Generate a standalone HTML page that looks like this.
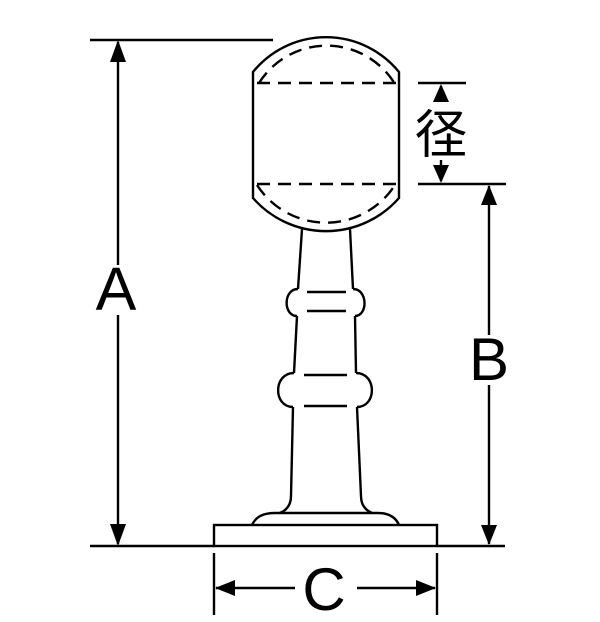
<!DOCTYPE html>
<html><head><style>
html,body{margin:0;padding:0;background:#fff;width:600px;height:622px;overflow:hidden}
svg{display:block}
text{font-family:"Liberation Sans","Noto Sans CJK JP",sans-serif;fill:#000}
</style></head><body>
<svg width="600" height="622" viewBox="0 0 600 622" xmlns="http://www.w3.org/2000/svg">
<g fill="none" stroke="#000" stroke-width="2.4">
<!-- ball -->
<path d="M253,198 L253,72 A94,94 0 0 1 399,72 L399,198 A97,97 0 0 1 253,198 Z"/>
<g stroke-dasharray="13,8">
<line x1="257" y1="83" x2="396" y2="83"/>
<line x1="257" y1="184" x2="396" y2="184"/>
<path d="M259,83 A80,80 0 0 1 395,84"/>
<path d="M257,185 A82,82 0 0 0 395,185"/>
</g>
<!-- stem -->
<path d="M302,229 L298,289"/>
<path d="M350,229 L353,289"/>
<path d="M298,289 C283,289 283,316 297,316 M353,289 C368,289 368,316 355,316"/>
<path d="M297,316 L294,373 M355,316 L356,373"/>
<path d="M294,373 C273,373 273,407 293,407 M356,373 C377,373 377,407 357,407"/>
<path d="M293,407 L291,496 C291,505 287,510 280,513 M357,407 L361,496 C361,505 365,510 372,513"/>
<line x1="307" y1="292" x2="346" y2="292"/>
<line x1="307" y1="311" x2="346" y2="311"/>
<line x1="304" y1="375" x2="347" y2="375"/>
<line x1="304" y1="406" x2="347" y2="406"/>
<!-- foot -->
<path d="M252,525 C256,516 264,513 275,513 L378,513 C390,513 396,518 399,525"/>
<rect x="214" y="525" width="223" height="21"/>
<!-- dimension lines -->
<line x1="90" y1="40" x2="273" y2="40"/>
<line x1="90" y1="546" x2="214" y2="546"/>
<line x1="437" y1="546" x2="505" y2="546"/>
<line x1="118" y1="42" x2="118" y2="265"/>
<line x1="118" y1="315" x2="118" y2="544"/>
<line x1="418" y1="83" x2="466" y2="83"/>
<line x1="418" y1="184" x2="506" y2="184"/>
<line x1="441" y1="86" x2="441" y2="100"/>
<line x1="441" y1="160" x2="441" y2="181"/>
<line x1="489" y1="186" x2="489" y2="335"/>
<line x1="489" y1="385" x2="489" y2="544"/>
<line x1="214" y1="553" x2="214" y2="615"/>
<line x1="437" y1="553" x2="437" y2="615"/>
<line x1="216" y1="588" x2="295" y2="588"/>
<line x1="357" y1="588" x2="435" y2="588"/>
</g>
<g fill="#000">
<path d="M118,40 L110,62 L126,62 Z"/>
<path d="M118,546 L110,524 L126,524 Z"/>
<path d="M441,84 L433,102 L449,102 Z"/>
<path d="M441,183 L433,165 L449,165 Z"/>
<path d="M489,185 L481,205 L497,205 Z"/>
<path d="M489,545 L481,525 L497,525 Z"/>
<path d="M215,588 L235,580 L235,596 Z"/>
<path d="M436,588 L416,580 L416,596 Z"/>
</g>
<text x="116" y="310" font-size="61" text-anchor="middle">A</text>
<text x="489" y="380" font-size="60" text-anchor="middle">B</text>
<text x="324" y="610" font-size="60" text-anchor="middle">C</text>
<text x="441" y="153" font-size="52" text-anchor="middle">径</text>
</svg>
</body></html>
